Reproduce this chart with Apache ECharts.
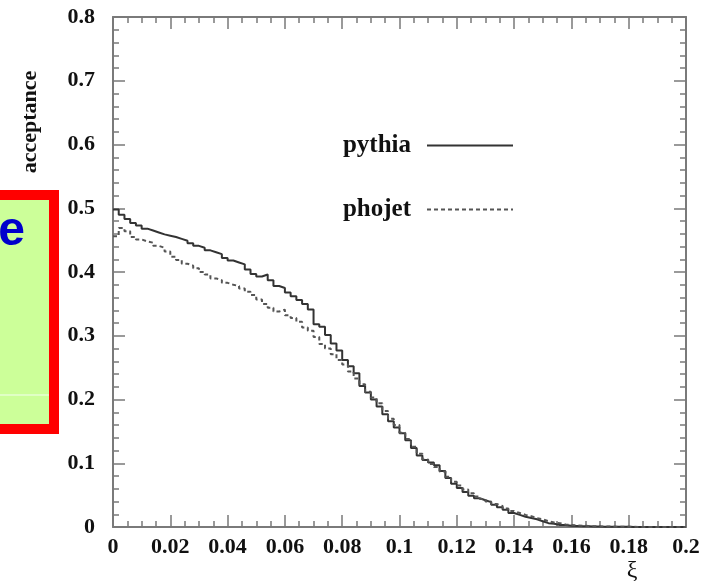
<!DOCTYPE html>
<html>
<head>
<meta charset="utf-8">
<script src="https://cdn.jsdelivr.net/npm/echarts@6/dist/echarts.min.js"></script>
<style>
  html, body { margin: 0; padding: 0; background: #fff; }
  #chart { width: 715px; height: 581px; }
</style>
</head>
<body>
<div id="chart"></div>
<script>
// histogram bins: 0..0.2 in steps of 0.002
var binWidth = 0.002;
var seriesNames = ['pythia', 'phojet'];

// acceptance per bin
var pythia = [
  0.498, 0.490, 0.483, 0.477, 0.473, 0.468, 0.465, 0.462, 0.459, 0.457,
  0.455, 0.452, 0.449, 0.445, 0.441, 0.438, 0.434, 0.431, 0.428, 0.422,
  0.418, 0.415, 0.412, 0.404, 0.397, 0.393, 0.396, 0.387, 0.378, 0.375,
  0.368, 0.362, 0.356, 0.350, 0.341, 0.318, 0.314, 0.301, 0.288, 0.277,
  0.262, 0.252, 0.241, 0.221, 0.211, 0.200, 0.189, 0.177, 0.166, 0.156,
  0.147, 0.136, 0.124, 0.112, 0.105, 0.101, 0.097, 0.088, 0.077, 0.068,
  0.061, 0.055, 0.049, 0.045, 0.042, 0.039, 0.035, 0.031, 0.027, 0.022,
  0.019, 0.016, 0.014, 0.012, 0.009, 0.006, 0.005, 0.003, 0.003, 0.002,
  0.0015, 0.001, 0.001, 0.0008, 0.0006, 0.0005, 0.0004, 0.0003, 0.0002, 0.0002,
  0.0001, 0, 0, 0, 0, 0, 0, 0, 0, 0
];
var phojet = [
  0.456, 0.469, 0.464, 0.455, 0.451, 0.448, 0.446, 0.441, 0.438, 0.432,
  0.424, 0.419, 0.413, 0.410, 0.406, 0.400, 0.396, 0.390, 0.387, 0.383,
  0.380, 0.378, 0.374, 0.369, 0.364, 0.357, 0.350, 0.344, 0.338, 0.341,
  0.332, 0.328, 0.322, 0.313, 0.308, 0.298, 0.287, 0.280, 0.271, 0.262,
  0.255, 0.244, 0.233, 0.224, 0.212, 0.203, 0.194, 0.182, 0.170, 0.160,
  0.148, 0.138, 0.126, 0.115, 0.106, 0.099, 0.094, 0.087, 0.079, 0.071,
  0.065, 0.059, 0.053, 0.048, 0.044, 0.040, 0.036, 0.033, 0.029, 0.025,
  0.022, 0.019, 0.017, 0.014, 0.012, 0.009, 0.007, 0.006, 0.004, 0.003,
  0.0025, 0.002, 0.0015, 0.001, 0.001, 0.0008, 0.0006, 0.0005, 0.0004, 0.0003,
  0.0002, 0.0001, 0, 0, 0, 0, 0, 0, 0, 0
];

var serif = 'Liberation Serif';
var frameColor = '#7a7a7a';

// turn bin values into step points (left edge + closing edge)
function toSteps(values) {
  var pts = [];
  for (var i = 0; i < values.length; i++) {
    pts.push([i * binWidth, values[i]]);
  }
  pts.push([values.length * binWidth, values[values.length - 1]]);
  return pts;
}

function frameAxis(extra) {
  var ax = {
    type: 'value',
    axisLine: { show: true, onZero: false, lineStyle: { color: frameColor, width: 2 } },
    axisTick: { show: true, inside: true, length: 12, lineStyle: { color: frameColor, width: 1.5 } },
    splitLine: { show: false },
    axisLabel: { show: false }
  };
  for (var k in extra) ax[k] = extra[k];
  return ax;
}

function minor(n) {
  return { show: true, splitNumber: n, length: 6, lineStyle: { color: frameColor, width: 1.5 } };
}

var tickFont = { show: true, fontSize: 22, fontFamily: serif, fontWeight: 'bold', color: '#111' };

var chart = echarts.init(document.getElementById('chart'));
var option = {
  backgroundColor: '#fff',
  animation: false,
  grid: { left: 113, right: 29, top: 17, bottom: 54 },
  legend: {
    data: seriesNames,
    orient: 'vertical',
    right: 196,
    top: 128,
    align: 'right',
    itemWidth: 86,
    itemHeight: 14,
    itemGap: 39,
    itemStyle: { opacity: 0 },
    textStyle: { fontFamily: serif, fontWeight: 'bold', fontSize: 25, lineHeight: 14, color: '#111', padding: [0, 11, 0, 0] }
  },
  xAxis: [
    frameAxis({
      position: 'bottom', min: 0, max: 0.2, interval: 0.02,
      minorTick: minor(4),
      axisLabel: Object.assign({ margin: 9 }, tickFont)
    }),
    frameAxis({ position: 'top', min: 0, max: 0.2, interval: 0.02, minorTick: minor(4) })
  ],
  yAxis: [
    frameAxis({
      position: 'left', min: 0, max: 0.8, interval: 0.1,
      minorTick: minor(5),
      axisLabel: Object.assign({ margin: 18 }, tickFont)
    }),
    frameAxis({ position: 'right', min: 0, max: 0.8, interval: 0.1, minorTick: minor(5) })
  ],
  series: [
    {
      name: 'pythia',
      type: 'line',
      step: 'end',
      symbol: 'none',
      lineStyle: { color: '#333', width: 2, type: 'solid' },
      itemStyle: { color: '#333' },
      data: toSteps(pythia)
    },
    {
      name: 'phojet',
      type: 'line',
      step: 'end',
      symbol: 'none',
      lineStyle: { color: '#555', width: 2, type: [4, 3] },
      itemStyle: { color: '#555' },
      data: toSteps(phojet)
    }
  ],
  graphic: [
    // slide overlay box on the left edge
    {
      type: 'rect',
      shape: { x: -30, y: 195, width: 84, height: 234 },
      style: { fill: '#ccff99', stroke: '#ff0000', lineWidth: 10 },
      z: 10
    },
    {
      type: 'line',
      shape: { x1: 0, y1: 395, x2: 49, y2: 395 },
      style: { stroke: '#f4fff0', lineWidth: 1 },
      z: 11
    },
    {
      type: 'text',
      style: { text: 'e', x: 25, y: 256, textAlign: 'right', textVerticalAlign: 'bottom', font: 'bold 48px "Liberation Sans"', fill: '#0000cc' },
      z: 11
    },
    // axis titles
    {
      type: 'text',
      rotation: Math.PI / 2,
      x: 30, y: 122,
      style: { text: 'acceptance', textAlign: 'center', textVerticalAlign: 'middle', font: 'bold 22px "Liberation Serif"', fill: '#111' }
    },
    {
      type: 'text',
      x: 632, y: 571,
      style: { text: 'ξ', textAlign: 'center', textVerticalAlign: 'middle', font: '24px "Liberation Serif"', fill: '#111' }
    }
  ]
};
chart.setOption(option);
</script>
</body>
</html>
